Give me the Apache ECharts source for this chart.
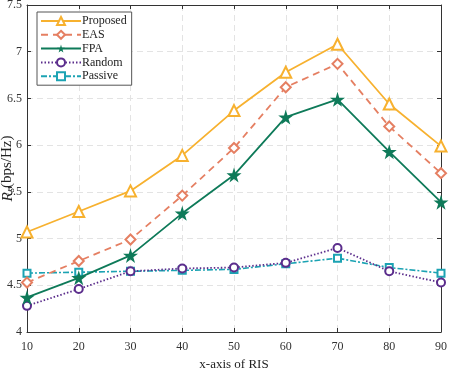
<!DOCTYPE html>
<html><head><meta charset="utf-8">
<script src="https://cdn.jsdelivr.net/npm/echarts@6/dist/echarts.min.js"></script>
<style>html,body{margin:0;padding:0;background:#fff}#c{width:450px;height:368px}</style>
</head><body><div id="c"></div>
<script>
const xValues = [10, 20, 30, 40, 50, 60, 70, 80, 90];
const proposed = [5.07, 5.29, 5.51, 5.89, 6.37, 6.78, 7.08, 6.44, 5.99];
const eas      = [4.53, 4.76, 4.99, 5.46, 5.97, 6.62, 6.87, 6.20, 5.70];
const fpa      = [4.37, 4.58, 4.82, 5.27, 5.68, 6.30, 6.49, 5.93, 5.39];
const randomV  = [4.28, 4.46, 4.65, 4.68, 4.69, 4.74, 4.90, 4.65, 4.53];
const passive  = [4.63, 4.64, 4.65, 4.66, 4.67, 4.73, 4.79, 4.69, 4.63];
const seriesNames = ['Proposed', 'EAS', 'FPA', 'Random', 'Passive'];

const FONT = '"Liberation Serif", "DejaVu Serif", serif';
const star = 'path://M50,0 L61,35 L98,35 L68,57 L79,91 L50,70 L21,91 L32,57 L2,35 L39,35 Z';
const pair = arr => xValues.map((x, i) => [x, arr[i]]);

const styles = [
  {color: '#F7B12F', symbol: 'emptyTriangle', size: 11, type: 'solid', width: 1.8},
  {color: '#E57F62', symbol: 'emptyDiamond', size: 10, type: [7, 5], width: 1.8},
  {color: '#0E7A59', symbol: star, size: 15, type: 'solid', width: 1.8},
  {color: '#5B2D8C', symbol: 'emptyCircle', size: 8, type: [1.5, 2], width: 1.8},
  {color: '#1CA3B3', symbol: 'emptyRect', size: 7, type: [6, 2, 2, 2], width: 1.6}
];
const data = [proposed, eas, fpa, randomV, passive];

const chart = echarts.init(document.getElementById('c'));
const axisCommon = {
  axisLine: {show: true, lineStyle: {color: '#333', width: 1}},
  axisTick: {show: true, inside: true, length: 4, lineStyle: {color: '#333'}},
};
chart.setOption({
  animation: false,
  textStyle: {fontFamily: FONT},
  grid: {left: 27, right: 9, top: 5, bottom: 36, containLabel: false, outerBoundsMode: 'none'},
  legend: {
    orient: 'vertical', left: 37, top: 12,
    data: seriesNames,
    itemWidth: 40, itemHeight: 10, itemGap: 1.8,
    padding: [3, 5, 3, 3],
    borderColor: '#555', borderWidth: 1, backgroundColor: '#fff', borderRadius: 0,
    textStyle: {fontFamily: FONT, fontSize: 12, color: '#222', padding: [0, 0, 0, -4], lineHeight: 11}
  },
  xAxis: [{
    type: 'value', min: 10, max: 90, interval: 10, position: 'bottom',
    name: 'x-axis of RIS', nameLocation: 'middle', nameGap: 19,
    nameTextStyle: {fontFamily: FONT, fontSize: 13, color: '#222'},
    axisLabel: {fontFamily: FONT, fontSize: 12, color: '#333', margin: 9},
    splitLine: {show: true, lineStyle: {color: '#e3e3e3', type: [6, 4]}},
    ...axisCommon
  }, {
    type: 'value', min: 10, max: 90, interval: 10, position: 'top',
    axisLabel: {show: false}, splitLine: {show: false}, ...axisCommon
  }],
  yAxis: [{
    type: 'value', min: 4, max: 7.5, interval: 0.5, position: 'left',
    name: '{r|R}{s|s}{t|(bps/Hz)}', nameLocation: 'middle', nameGap: 10,
    nameMoveOverlap: false,
    nameTextStyle: {
      fontFamily: FONT, fontSize: 15, color: '#222',
      rich: {
        r: {fontFamily: FONT, fontSize: 15.5, fontStyle: 'italic', color: '#222', lineHeight: 19, verticalAlign: 'middle'},
        s: {fontFamily: FONT, fontSize: 10.5, fontStyle: 'italic', color: '#222', lineHeight: 19, verticalAlign: 'bottom'},
        t: {fontFamily: FONT, fontSize: 15, color: '#222', lineHeight: 19, verticalAlign: 'middle'}
      }
    },
    axisLabel: {fontFamily: FONT, fontSize: 12, color: '#333', margin: 5},
    splitLine: {show: true, lineStyle: {color: '#e3e3e3', type: [6, 4]}},
    ...axisCommon
  }, {
    type: 'value', min: 4, max: 7.5, interval: 0.5, position: 'right',
    axisLabel: {show: false}, splitLine: {show: false}, ...axisCommon
  }],
  series: seriesNames.map((name, i) => ({
    name, type: 'line', data: pair(data[i]),
    symbol: styles[i].symbol, symbolSize: styles[i].size, showAllSymbol: true,
    itemStyle: {color: styles[i].color, borderWidth: 1.6},
    lineStyle: {color: styles[i].color, type: styles[i].type, width: styles[i].width},
    z: 10 - i
  }))
});
</script></body></html>
